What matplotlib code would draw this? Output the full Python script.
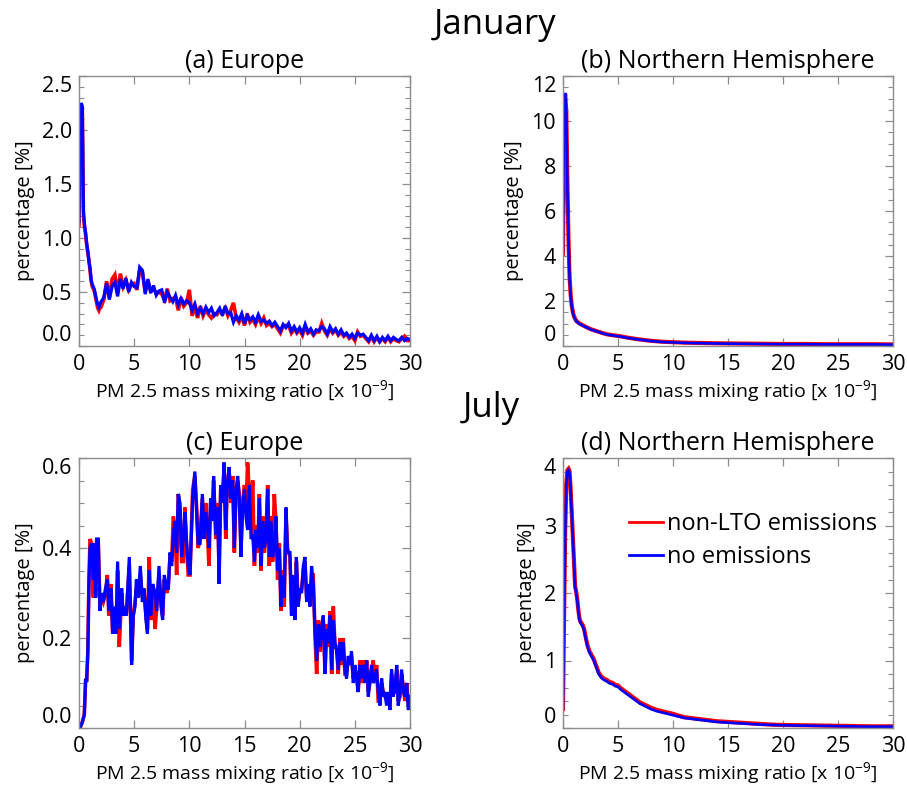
import numpy as np
import matplotlib
matplotlib.use("Agg")
import matplotlib.pyplot as plt
from matplotlib.ticker import MultipleLocator, FixedLocator

plt.rcParams['font.family'] = ['Open Sans', 'DejaVu Sans']
plt.rcParams['mathtext.fontset'] = 'custom'
plt.rcParams['mathtext.rm'] = 'Open Sans'
plt.rcParams['mathtext.it'] = 'Open Sans:italic'

# ---------------- data ----------------
series_labels = ["non-LTO emissions", "no emissions"]
month_titles = ["January", "July"]
panel_titles = ["(a) Europe", "(b) Northern Hemisphere", "(c) Europe", "(d) Northern Hemisphere"]
x_label = "PM 2.5 mass mixing ratio [x 10$^{-9}$]"
y_label = "percentage [%]"

# (a) January, Europe
a_x_start = [0.0, 0.1, 0.2, 0.3, 0.4, 0.5, 0.6, 0.7, 0.8, 0.9,
             1.0, 1.1, 1.2, 1.3, 1.4, 1.5, 1.6, 1.7, 1.8, 1.9]
a_x_grid = np.arange(2.0, 30.001, 0.25)
a_blue_start = [1.15, 2.15, 2.25, 2.22, 1.25, 1.12, 1.05, 0.95, 0.88, 0.78,
                0.72, 0.62, 0.57, 0.55, 0.52, 0.47, 0.42, 0.38, 0.36, 0.39]
a_red_start = [1.12, 2.10, 2.22, 2.20, 1.22, 1.10, 1.03, 0.93, 0.86, 0.80,
               0.70, 0.60, 0.55, 0.53, 0.50, 0.45, 0.40, 0.35, 0.33, 0.36]
a_blue_grid = [
    0.41, 0.45, 0.58, 0.43,   # 2
    0.55, 0.59, 0.46, 0.62,   # 3
    0.53, 0.63, 0.50, 0.59,   # 4
    0.55, 0.54, 0.73, 0.70,   # 5
    0.48, 0.62, 0.49, 0.56,   # 6
    0.47, 0.51, 0.52, 0.40,   # 7
    0.50, 0.45, 0.41, 0.47,   # 8
    0.38, 0.44, 0.39, 0.42,   # 9
    0.40, 0.33, 0.39, 0.30,   # 10
    0.35, 0.30, 0.36, 0.31,   # 11
    0.35, 0.28, 0.31, 0.35,   # 12
    0.28, 0.37, 0.30, 0.31,   # 13
    0.22, 0.28, 0.24, 0.30,   # 14
    0.21, 0.28, 0.24, 0.27,   # 15
    0.22, 0.29, 0.23, 0.24,   # 16
    0.21, 0.23, 0.19, 0.22,   # 17
    0.18, 0.14, 0.20, 0.17,   # 18
    0.21, 0.14, 0.18, 0.13,   # 19
    0.17, 0.12, 0.20, 0.13,   # 20
    0.16, 0.11, 0.15, 0.14,   # 21
    0.18, 0.16, 0.11, 0.18,   # 22
    0.13, 0.16, 0.11, 0.15,   # 23
    0.10, 0.12, 0.08, 0.11,   # 24
    0.07, 0.12, 0.10, 0.11,   # 25
    0.08, 0.05, 0.10, 0.05,   # 26
    0.09, 0.04, 0.08, 0.05,   # 27
    0.09, 0.05, 0.08, 0.06,   # 28
    0.05, 0.08, 0.05, 0.07,   # 29
    0.06]                     # 30
a_red_grid = [
    0.36, 0.43, 0.60, 0.45,
    0.62, 0.66, 0.50, 0.67,
    0.55, 0.61, 0.52, 0.57,
    0.58, 0.52, 0.70, 0.68,
    0.50, 0.60, 0.51, 0.53,
    0.49, 0.50, 0.48, 0.43,
    0.53, 0.42, 0.44, 0.45,
    0.33, 0.45, 0.37, 0.40,
    0.52, 0.28, 0.36, 0.26,
    0.37, 0.28, 0.34, 0.29,
    0.26, 0.30, 0.29, 0.33,
    0.30, 0.35, 0.28, 0.33,
    0.40, 0.26, 0.22, 0.28,
    0.19, 0.30, 0.22, 0.25,
    0.20, 0.27, 0.21, 0.26,
    0.19, 0.21, 0.18, 0.20,
    0.16, 0.12, 0.18, 0.19,
    0.19, 0.12, 0.16, 0.12,
    0.15, 0.10, 0.18, 0.12,
    0.14, 0.10, 0.13, 0.13,
    0.21, 0.14, 0.10, 0.16,
    0.12, 0.15, 0.10, 0.13,
    0.09, 0.11, 0.07, 0.09,
    0.05, 0.13, 0.09, 0.10,
    0.07, 0.04, 0.09, 0.04,
    0.08, 0.04, 0.07, 0.04,
    0.08, 0.04, 0.07, 0.05,
    0.04, 0.07, 0.09, 0.05,
    0.05]

# (b) January, Northern Hemisphere
b_x = [0.0, 0.1, 0.2, 0.3, 0.4, 0.5, 0.6, 0.7, 0.8, 0.9, 1.0, 1.2, 1.5, 2.0, 2.5,
       3.0, 3.5, 4.0, 4.5, 5.0, 6.0, 7.0, 8.0, 9.0, 10.0, 11.0, 12.0, 14.0, 16.0,
       18.0, 20.0, 22.0, 24.0, 26.0, 28.0, 30.0]
b_blue = [4.2, 10.9, 11.25, 10.3, 7.1, 4.6, 3.0, 2.2, 1.75, 1.47, 1.3, 1.1, 0.98, 0.86, 0.74,
          0.66, 0.58, 0.51, 0.47, 0.44, 0.35, 0.28, 0.22, 0.18, 0.16, 0.14, 0.13, 0.11, 0.10,
          0.09, 0.08, 0.08, 0.07, 0.07, 0.07, 0.06]
b_red = [4.1, 10.8, 11.2, 10.4, 7.2, 4.7, 3.05, 2.25, 1.78, 1.5, 1.32, 1.12, 1.0, 0.87, 0.75,
         0.67, 0.59, 0.52, 0.48, 0.45, 0.36, 0.29, 0.23, 0.19, 0.17, 0.15, 0.14, 0.12, 0.11,
         0.10, 0.09, 0.09, 0.08, 0.08, 0.08, 0.07]

# (c) July, Europe
c_x = [0.09, 0.3, 0.48, 0.6, 0.7, 0.8, 0.9, 1.0, 1.15, 1.3, 1.4, 1.5, 1.6, 1.75, 1.9,
       2.05, 2.2, 2.4, 2.57, 2.7, 2.9, 3.05, 3.2, 3.35, 3.5, 3.65, 3.87, 4.0, 4.17, 4.3,
       4.56, 4.77, 4.92, 5.08, 5.2, 5.37, 5.56, 5.74, 5.9, 6.07, 6.2, 6.37, 6.5, 6.68, 6.9,
       7.04, 7.25, 7.43, 7.58, 7.73, 7.95, 8.1, 8.25, 8.4, 8.55, 8.7, 8.85, 9.0, 9.15, 9.3,
       9.45, 9.6, 9.76, 9.9, 10.06, 10.3, 10.5, 10.66, 10.8, 10.97, 11.18, 11.33, 11.48, 11.63,
       11.78, 11.93, 12.08, 12.2, 12.4, 12.57, 12.7, 12.84, 13.0, 13.14, 13.3, 13.44, 13.6,
       13.78, 13.93, 14.08, 14.23, 14.38, 14.53, 14.68, 14.83, 15.0, 15.13, 15.28, 15.44,
       15.6, 15.74, 15.9, 16.04, 16.2, 16.35, 16.5, 16.65, 16.8, 16.95, 17.1, 17.25, 17.4,
       17.55, 17.7, 17.85, 18.0, 18.16, 18.3, 18.46, 18.6, 18.76, 18.9, 19.12, 19.27, 19.42,
       19.57, 19.7, 19.87, 20.0, 20.18, 20.33, 20.48, 20.63, 20.78, 20.93, 21.08, 21.23, 21.4,
       21.54, 21.7, 21.84, 21.99, 22.14, 22.3, 22.44, 22.6, 22.75, 22.9, 23.05, 23.2, 23.35,
       23.5, 23.65, 23.8, 23.95, 24.1, 24.25, 24.4, 24.56, 24.7, 24.86, 25.0, 25.16, 25.3,
       25.46, 25.6, 25.77, 25.92, 26.07, 26.22, 26.37, 26.52, 26.67, 26.8, 26.97, 27.12, 27.28,
       27.43, 27.58, 27.73, 27.88, 28.03, 28.18, 28.33, 28.48, 28.64, 28.8, 28.93, 29.1, 29.24,
       29.4, 29.54, 29.7, 29.85, 30.0]
c_blue = [0.0, 0.013, 0.03, 0.106, 0.106, 0.17, 0.32, 0.40, 0.41, 0.33, 0.41, 0.29, 0.42, 0.42, 0.26,
          0.30, 0.28, 0.31, 0.33, 0.26, 0.31, 0.21, 0.27, 0.21, 0.37, 0.22, 0.31, 0.25, 0.27, 0.25,
          0.38, 0.14, 0.25, 0.27, 0.33, 0.29, 0.36, 0.28, 0.31, 0.24, 0.21, 0.35, 0.25, 0.32, 0.30,
          0.26, 0.36, 0.27, 0.24, 0.34, 0.31, 0.31, 0.39, 0.36, 0.43, 0.46, 0.39, 0.52, 0.50, 0.38,
          0.42, 0.48, 0.41, 0.36, 0.34, 0.51, 0.57, 0.48, 0.41, 0.41, 0.52, 0.42, 0.48, 0.45,
          0.40, 0.51, 0.46, 0.56, 0.43, 0.49, 0.32, 0.54, 0.50, 0.59, 0.44, 0.54, 0.58,
          0.51, 0.55, 0.40, 0.52, 0.56, 0.51, 0.38, 0.49, 0.53, 0.47, 0.44, 0.54,
          0.42, 0.43, 0.37, 0.44, 0.40, 0.51, 0.36, 0.46, 0.40, 0.42, 0.53, 0.38, 0.46,
          0.38, 0.40, 0.47, 0.35, 0.40, 0.27, 0.34, 0.29, 0.49, 0.39, 0.39, 0.25, 0.34,
          0.24, 0.38, 0.27, 0.31, 0.30, 0.36, 0.38, 0.28, 0.32, 0.27, 0.36, 0.32, 0.21,
          0.15, 0.23, 0.18, 0.22, 0.25, 0.12, 0.22, 0.19, 0.25, 0.13, 0.24, 0.19, 0.17,
          0.13, 0.19, 0.15, 0.19, 0.13, 0.11, 0.16, 0.14, 0.17, 0.10, 0.14, 0.11, 0.08,
          0.14, 0.11, 0.14, 0.10, 0.15, 0.07, 0.11, 0.14, 0.10, 0.11, 0.13, 0.08, 0.05,
          0.11, 0.07, 0.08, 0.05, 0.08, 0.04, 0.13, 0.07, 0.09, 0.14, 0.05, 0.08, 0.13,
          0.08, 0.07, 0.10, 0.04, 0.07]
c_red = [0.0, 0.013, 0.03, 0.106, 0.106, 0.17, 0.33, 0.42, 0.41, 0.29, 0.40, 0.29, 0.42, 0.41, 0.27,
         0.29, 0.28, 0.30, 0.34, 0.25, 0.32, 0.21, 0.26, 0.21, 0.35, 0.18, 0.30, 0.25, 0.26, 0.26,
         0.36, 0.15, 0.25, 0.28, 0.31, 0.30, 0.34, 0.29, 0.30, 0.25, 0.22, 0.38, 0.24, 0.31, 0.22,
         0.27, 0.34, 0.28, 0.25, 0.33, 0.30, 0.32, 0.38, 0.37, 0.47, 0.45, 0.34, 0.52, 0.49, 0.37,
         0.37, 0.49, 0.40, 0.34, 0.34, 0.53, 0.56, 0.49, 0.40, 0.42, 0.51, 0.43, 0.50, 0.44,
         0.36, 0.50, 0.47, 0.55, 0.42, 0.50, 0.34, 0.53, 0.51, 0.57, 0.42, 0.55, 0.57,
         0.50, 0.56, 0.39, 0.53, 0.55, 0.52, 0.40, 0.50, 0.54, 0.48, 0.59, 0.52,
         0.44, 0.55, 0.36, 0.45, 0.39, 0.52, 0.35, 0.47, 0.39, 0.43, 0.54, 0.36, 0.47,
         0.37, 0.52, 0.46, 0.33, 0.41, 0.26, 0.35, 0.27, 0.48, 0.40, 0.38, 0.25, 0.33,
         0.25, 0.37, 0.28, 0.30, 0.31, 0.35, 0.37, 0.29, 0.31, 0.28, 0.34, 0.34, 0.20,
         0.12, 0.24, 0.17, 0.23, 0.24, 0.12, 0.23, 0.18, 0.26, 0.12, 0.27, 0.18, 0.18,
         0.12, 0.20, 0.14, 0.20, 0.12, 0.12, 0.15, 0.15, 0.16, 0.11, 0.13, 0.12, 0.08,
         0.15, 0.10, 0.15, 0.10, 0.15, 0.08, 0.10, 0.13, 0.15, 0.10, 0.14, 0.06, 0.06,
         0.10, 0.08, 0.07, 0.06, 0.07, 0.05, 0.12, 0.08, 0.08, 0.13, 0.06, 0.07, 0.12,
         0.09, 0.06, 0.10, 0.05, 0.06]

# (d) July, Northern Hemisphere
d_x = [0.0, 0.1, 0.2, 0.3, 0.4, 0.5, 0.6, 0.7, 0.8, 0.9, 1.0, 1.1, 1.2, 1.3, 1.4, 1.5, 1.6,
       1.7, 1.8, 1.9, 2.0, 2.2, 2.4, 2.6, 2.8, 3.0, 3.25, 3.5, 3.75, 4.0, 4.25, 4.5, 4.75,
       5.0, 5.25, 5.5, 5.75, 6.0, 6.5, 7.0, 7.5, 8.0, 8.5, 9.0, 9.5, 10.0, 11.0, 12.0, 13.0,
       14.0, 15.0, 16.0, 17.0, 18.0, 19.0, 20.0, 22.0, 24.0, 26.0, 28.0, 30.0]
d_blue = [0.3, 1.7, 2.9, 3.6, 3.8, 3.82, 3.78, 3.5, 3.15, 2.8, 2.45, 2.08, 2.0, 1.88, 1.72, 1.6, 1.55,
          1.53, 1.5, 1.46, 1.38, 1.22, 1.12, 1.06, 1.0, 0.91, 0.8, 0.74, 0.71, 0.69, 0.66, 0.65, 0.62,
          0.61, 0.57, 0.54, 0.51, 0.48, 0.42, 0.36, 0.32, 0.28, 0.25, 0.23, 0.21, 0.19, 0.15, 0.13, 0.11,
          0.09, 0.08, 0.07, 0.06, 0.05, 0.045, 0.04, 0.035, 0.03, 0.025, 0.02, 0.02]
d_red = [0.28, 1.72, 2.92, 3.62, 3.82, 3.84, 3.8, 3.52, 3.17, 2.82, 2.47, 2.1, 2.02, 1.9, 1.74, 1.62, 1.57,
         1.55, 1.52, 1.48, 1.4, 1.24, 1.14, 1.08, 1.02, 0.93, 0.82, 0.76, 0.73, 0.71, 0.68, 0.67, 0.64,
         0.63, 0.59, 0.56, 0.53, 0.5, 0.44, 0.38, 0.34, 0.3, 0.27, 0.25, 0.23, 0.21, 0.16, 0.14, 0.12,
         0.10, 0.09, 0.08, 0.07, 0.06, 0.05, 0.045, 0.04, 0.035, 0.03, 0.025, 0.025]

a_x = np.concatenate([a_x_start, a_x_grid])
a_blue = np.concatenate([a_blue_start, a_blue_grid])
a_red = np.concatenate([a_red_start, a_red_grid])

panels = [
    dict(x=a_x, red=a_red, blue=a_blue, ylim=(0, 2.5), major=[0.0, 0.5, 1.0, 1.5, 2.0, 2.5],
         fmt="{:.1f}", minor=0.1, lw=(2.6, 2.3)),
    dict(x=b_x, red=b_red, blue=b_blue, ylim=(0, 12), major=[0, 2, 4, 6, 8, 10, 12],
         fmt="{:.0f}", minor=0.5, lw=(3.0, 1.9)),
    dict(x=c_x, red=c_red, blue=c_blue, ylim=(0, 0.6), major=[0.0, 0.2, 0.4, 0.6],
         fmt="{:.1f}", minor=0.05, lw=(2.6, 2.3)),
    dict(x=d_x, red=d_red, blue=d_blue, ylim=(0, 4), major=[0, 1, 2, 3, 4],
         fmt="{:.0f}", minor=0.2, lw=(3.0, 1.9)),
]

W, H = 907, 785
fig = plt.figure(figsize=(W / 100, H / 100), dpi=100)
# axes boxes in pixels: left, top, right, bottom
boxes = [(79, 76, 410, 346), (563, 76, 893, 346), (79, 458, 410, 728), (563, 458, 893, 728)]
frame_col = '#8c8c8c'
red_col = '#ff0000'
blue_col = '#0000ff'

axes = []
for i, (p, box) in enumerate(zip(panels, boxes)):
    l, t, r, b = box
    ax = fig.add_axes([l / W, 1 - b / H, (r - l) / W, (b - t) / H])
    ax.plot(p['x'], p['red'], color=red_col, lw=p['lw'][0], label=series_labels[0],
            solid_joinstyle='miter')
    ax.plot(p['x'], p['blue'], color=blue_col, lw=p['lw'][1], label=series_labels[1],
            solid_joinstyle='miter')
    ax.set_xlim(0, 30)
    ax.set_ylim(*p['ylim'])
    ax.xaxis.set_major_locator(FixedLocator([0, 5, 10, 15, 20, 25, 30]))
    ax.set_xticklabels(["0", "5", "10", "15", "20", "25", "30"])
    ax.yaxis.set_major_locator(FixedLocator(p['major']))
    ax.set_yticklabels([p['fmt'].format(v) for v in p['major']])
    ax.yaxis.set_minor_locator(MultipleLocator(p['minor']))
    ax.tick_params(which='both', direction='in', top=True, right=True, color=frame_col,
                   labelsize=15.5, labelcolor='black')
    ax.tick_params(which='major', length=6, width=0.9)
    ax.tick_params(which='minor', length=3.5, width=0.8)
    ax.tick_params(axis='x', pad=6)
    ax.tick_params(axis='y', pad=5)
    for s in ax.spines.values():
        s.set_color(frame_col)
        s.set_linewidth(1.0)
    ticks = ax.yaxis.get_major_ticks()
    ticks[0].label1.set_va('bottom')
    ticks[-1].label1.set_va('top')
    ax.set_xlabel(x_label, fontsize=14, labelpad=2)
    ax.set_ylabel(y_label, fontsize=14.5, labelpad=5)
    ax.set_title(panel_titles[i], fontsize=18, pad=6)
    axes.append(ax)

fig.text(495 / W, 1 - 25 / H, month_titles[0], fontsize=25, ha='center', va='center')
fig.text(491 / W, 1 - 408 / H, month_titles[1], fontsize=25, ha='center', va='center')

leg = axes[3].legend(loc='upper left', bbox_to_anchor=(0.2, 0.80), frameon=False, fontsize=17,
                     handlelength=1.45, handletextpad=0.15, labelspacing=0.38, borderpad=0,
                     borderaxespad=0)
for h in leg.legend_handles:
    h.set_linewidth(2.0)

fig.savefig("out.png", dpi=100)
